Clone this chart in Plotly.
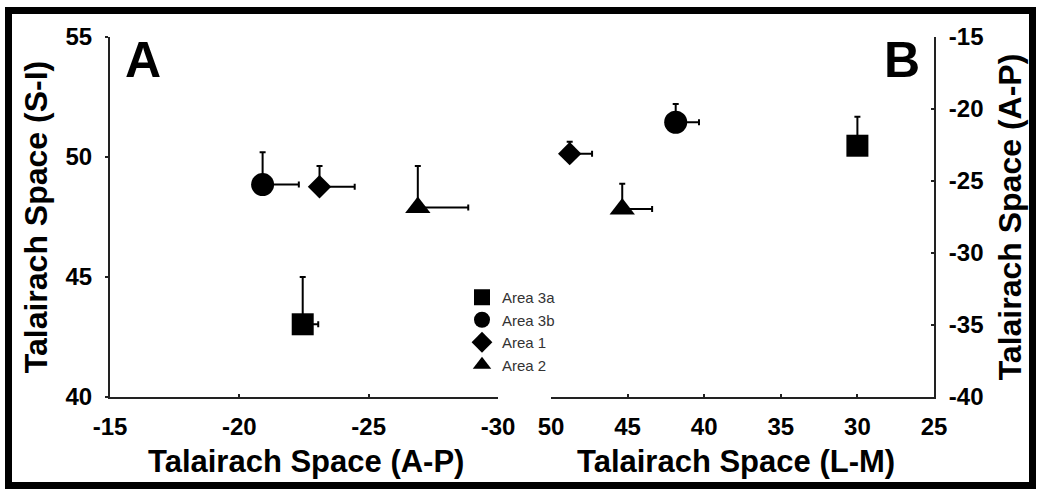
import plotly.graph_objects as go

# Cortical areas and their mean Talairach coordinates
areas = ["Area 3a", "Area 3b", "Area 1", "Area 2"]

# Panel A: anterior-posterior (x) vs superior-inferior (y)
ap_a = [-22.45, -20.9, -23.1, -26.9]
si_a = [43.03, 48.85, 48.76, 47.9]
a_xerr = [0.6, 1.4, 1.36, 1.95]
a_yerr = [1.97, 1.35, 0.87, 1.73]

# Panel B: lateral-medial (x) vs anterior-posterior (y)
lm_b = [30.0, 41.86, 48.78, 45.35]
ap_b = [-22.55, -20.92, -23.1, -26.95]
b_xerr = [0.3, 1.52, 1.46, 1.95]
b_yerr = [2.02, 1.27, 0.83, 1.76]

# Tick values
a_xticks = [-15, -20, -25, -30]
a_yticks = [40, 45, 50, 55]
b_xticks = [50, 45, 40, 35, 30, 25]
b_yticks = [-40, -35, -30, -25, -20, -15]

symbols = ["square", "circle", "diamond", "triangle-up"]
sizes = [22, 23, 18, 22]

W, H = 1039, 492
FONT = "Liberation Sans, Arial, sans-serif"


def px_x(p):
    return p / W


def px_y(p):
    return 1 - p / H


def labels(vals):
    # bold labels with a plain hyphen-minus for negative numbers
    return [f"<b>{v}</b>" for v in vals]


def err(plus, minus):
    return dict(type="data", symmetric=False, array=plus, arrayminus=minus,
                color="black", thickness=2, width=3)


fig = go.Figure()

for i, name in enumerate(areas):
    fig.add_trace(go.Scatter(
        x=[ap_a[i]], y=[si_a[i]], mode="markers", name=name,
        legendgroup=name, showlegend=True,
        marker=dict(symbol=symbols[i], size=sizes[i], color="black"),
        error_x=err([0], [a_xerr[i]]),
        error_y=err([a_yerr[i]], [0]),
        xaxis="x", yaxis="y",
    ))

for i, name in enumerate(areas):
    fig.add_trace(go.Scatter(
        x=[lm_b[i]], y=[ap_b[i]], mode="markers", name=name,
        legendgroup=name, showlegend=False,
        marker=dict(symbol=symbols[i], size=sizes[i], color="black"),
        error_x=err([0], [b_xerr[i]]),
        error_y=err([b_yerr[i]], [0]),
        xaxis="x2", yaxis="y2",
    ))

tickfont = dict(family=FONT, size=24, color="black")
titlefont = dict(family=FONT, size=31, color="black", weight="bold")
ytitlefont = dict(family=FONT, size=32, color="black", weight="bold")
axis_common = dict(showline=True, linecolor="#222", linewidth=2,
                   showgrid=False, zeroline=False, ticklen=3, tickwidth=2,
                   tickcolor="#222", tickfont=tickfont, automargin=False)

ydom = [px_y(397), px_y(37)]


def x_title(text, center_px):
    return dict(text=text, x=px_x(center_px), y=px_y(461), xref="paper",
                yref="paper", showarrow=False, xanchor="center",
                yanchor="middle", font=titlefont)


def panel_label(text, center_px):
    return dict(text=text, x=px_x(center_px), y=px_y(60), xref="paper",
                yref="paper", showarrow=False, xanchor="center",
                yanchor="middle",
                font=dict(family=FONT, size=50, color="black", weight="bold"))


fig.update_layout(
    width=W, height=H,
    margin=dict(l=0, r=0, t=0, b=0, autoexpand=False),
    paper_bgcolor="white", plot_bgcolor="white",
    showlegend=True,
    legend=dict(x=px_x(462), y=px_y(281), xanchor="left", yanchor="top",
                bgcolor="rgba(0,0,0,0)",
                font=dict(family=FONT, size=15, color="#333"),
                tracegroupgap=0, itemsizing="trace"),
    xaxis=dict(domain=[px_x(110), px_x(498)], range=[-15, -30],
               tickvals=a_xticks, ticktext=labels(a_xticks),
               ticks="inside", anchor="y", ticklabelstandoff=7,
               **axis_common),
    yaxis=dict(domain=ydom, range=[40, 55], tickvals=a_yticks,
               ticktext=labels(a_yticks),
               ticks="outside", anchor="x", ticklabelstandoff=8,
               title=dict(text="Talairach Space (S-I)", font=ytitlefont,
                          standoff=8),
               **axis_common),
    xaxis2=dict(domain=[px_x(551), px_x(934)], range=[50, 25],
                tickvals=b_xticks, ticktext=labels(b_xticks),
                ticks="inside", anchor="y2", ticklabelstandoff=7,
                **axis_common),
    yaxis2=dict(domain=ydom, range=[-40, -15], tickvals=b_yticks,
                ticktext=labels(b_yticks),
                ticks="inside", anchor="x2", side="right",
                ticklabelstandoff=8,
                title=dict(text="Talairach Space (A-P)", font=ytitlefont,
                           standoff=16),
                **axis_common),
    annotations=[
        x_title("Talairach Space (A-P)", 306),
        x_title("Talairach Space (L-M)", 736),
        panel_label("A", 143),
        panel_label("B", 902),
    ],
    shapes=[
        dict(type="rect", xref="paper", yref="paper",
             x0=px_x(8.5), x1=px_x(1032.5), y0=px_y(485.5), y1=px_y(10.5),
             line=dict(color="black", width=7), fillcolor="rgba(0,0,0,0)",
             layer="above"),
    ],
)

fig.write_html("out.html")
